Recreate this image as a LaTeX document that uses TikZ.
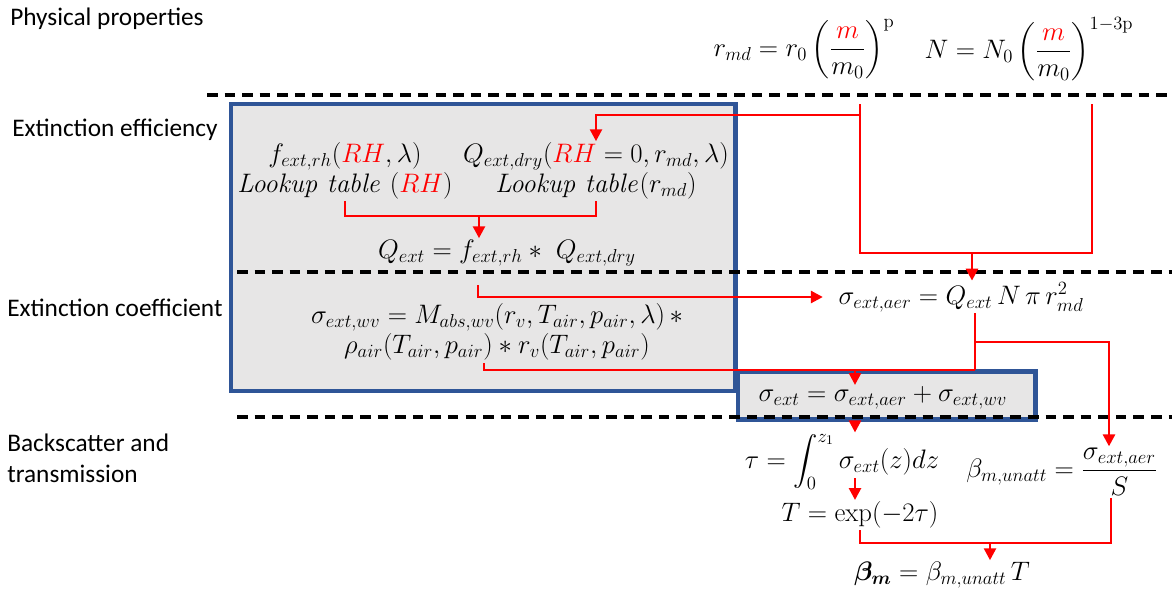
\documentclass[tikz,border=0pt]{standalone}
\usepackage{fix-cm}
\usepackage{amsmath}
\usepackage[no-math]{fontspec}
\newfontfamily\labelfont{Carlito}
\usetikzlibrary{
    positioning,
    arrows.meta,
    calc,
    backgrounds
}

\definecolor{boxblue}{HTML}{2F5597}
\definecolor{boxgray}{HTML}{E7E6E6}
\definecolor{flowred}{HTML}{FF0000}

\begin{document}
\begin{tikzpicture}[
    x=0.025cm, y=-0.025cm,
    every node/.style={font=\fontsize{19}{21}\selectfont},
    stage/.style={anchor=base west, inner sep=0pt, align=left, font=\labelfont\fontsize{18}{21.5}\selectfont},
    eqn/.style={inner sep=1pt, align=center},
    panel/.style={draw=boxblue, fill=boxgray, line width=3.2pt, inner sep=0pt},
    divider/.style={line width=2.3pt, dash pattern=on 7.5pt off 5pt},
    link/.style={draw=flowred, line width=1.9pt},
    arrow/.style={link, -{Triangle[length=8.5pt, width=8.5pt]}}
]
\useasboundingbox (0,0) rectangle (1172,594);

% ================= STAGES =================
\node[stage] (physlbl) at (10,25) {Physical properties};
\node[stage] (efflbl) at (12,136) {Extinction efficiency};
\node[stage] (coeflbl) at (7,316) {Extinction coefficient};
\node[stage, anchor=north west] (scatlbl) at (7,434) {Backscatter and\\transmission};

% ================= EQUATIONS =================
\node[eqn] (rmd) at (804,49) {$r_{md} = r_0\left(\dfrac{\textcolor{flowred}{m}}{m_0}\right)^{\mathrm{p}}$};
\node[eqn] (numconc) at (1029,49) {$N = N_0\left(\dfrac{\textcolor{flowred}{m}}{m_0}\right)^{1-3\mathrm{p}}$};

\node[eqn] (frh) at (345,171) {$f_{ext,rh}(\textcolor{flowred}{RH},\lambda)$\\$\mathit{Lookup\ table}\ (\textcolor{flowred}{RH})$};
\node[eqn] (qdry) at (596,171) {$Q_{ext,dry}(\textcolor{flowred}{RH} = 0, r_{md}, \lambda)$\\$\mathit{Lookup\ table}(r_{md})$};
\node[eqn] (qext) at (507,253) {$Q_{ext} = f_{ext,rh} *\ Q_{ext,dry}$};

\node[eqn] (sigaer) at (961,297) {$\sigma_{ext,aer} = Q_{ext}\, N\, \pi\, r_{md}^2$};
\node[eqn] (sigwv) at (497,332) {$\sigma_{ext,wv} = M_{abs,wv}(r_v, T_{air}, p_{air}, \lambda) \,*$\\$\rho_{air}(T_{air}, p_{air}) * r_v(T_{air}, p_{air})$};
\node[eqn] (sigext) at (883,398) {$\sigma_{ext} = \sigma_{ext,aer} + \sigma_{ext,wv}$};

\node[eqn] (tau) at (842,462) {$\tau = \displaystyle\int_0^{z_1} \sigma_{ext}(z) dz$};
\node[eqn] (betaun) at (1062,472) {$\beta_{m,unatt} = \dfrac{\sigma_{ext,aer}}{S}$};
\node[eqn] (trans) at (860,515) {$T = \exp(-2\tau)$};
\node[eqn] (betam) at (942,575) {$\boldsymbol{\beta_m} = \beta_{m,unatt}\, T$};

% ================= BOXES =================
\begin{scope}[on background layer]
\node[panel, minimum width=12.61cm, minimum height=7.175cm] (effbox) at (483.25,247.5) {};
\node[panel, minimum width=7.44cm, minimum height=1.2cm] (sumbox) at (886.75,395.5) {};
\end{scope}

\draw[divider] (207,95) -- (1172,95);
\draw[divider] (237,272) -- (1172,272);
\draw[divider] (237,417) -- (1172,417);

% ================= ARROWS =================
\coordinate (rmdtop) at (860,104);
\coordinate (ntop) at (1092,104);
\coordinate (rmdtap) at (860,115);
\coordinate (effjoin) at (972,253);
\coordinate (lutjoin) at (479,216);
\coordinate (qexttap) at (478,285);
\coordinate (wvtap) at (484,363);
\coordinate (aertap) at (975,342);
\coordinate (aerjoin) at (975,370);
\coordinate (sumin) at (855,370);
\coordinate (tauout) at (855,478);
\coordinate (scatjoin) at (990,543);

\draw[link] (rmdtop) |- (effjoin) -| (ntop);
\draw[arrow] (rmdtap) -| (qdry.north);
\draw[arrow] (effjoin) -- (effjoin |- sigaer.north);

\draw[link] (frh.south) |- (lutjoin) -| (qdry.south);
\draw[arrow] (lutjoin) -- (lutjoin |- qext.north);

\draw[arrow] (qexttap) |- ($(sigaer.west)+(-14,0)$);

\draw[link] (aerjoin |- sigaer.south) -- (aerjoin);
\draw[link] (wvtap) |- (aerjoin);
\draw[arrow] (sumin) -- (sumin |- sigext.north);
\draw[arrow] (aertap) -| ($(betaun.north)+(47,0)$);

\draw[arrow] (sumin |- sumbox.south) -- (sumin |- tau.north);
\draw[arrow] (tauout) -- (tauout |- trans.north);

\draw[link] (trans.south) |- (scatjoin) -| ($(betaun.south)+(49,0)$);
\draw[arrow] (scatjoin) -- (scatjoin |- betam.north);

\end{tikzpicture}
\end{document}
